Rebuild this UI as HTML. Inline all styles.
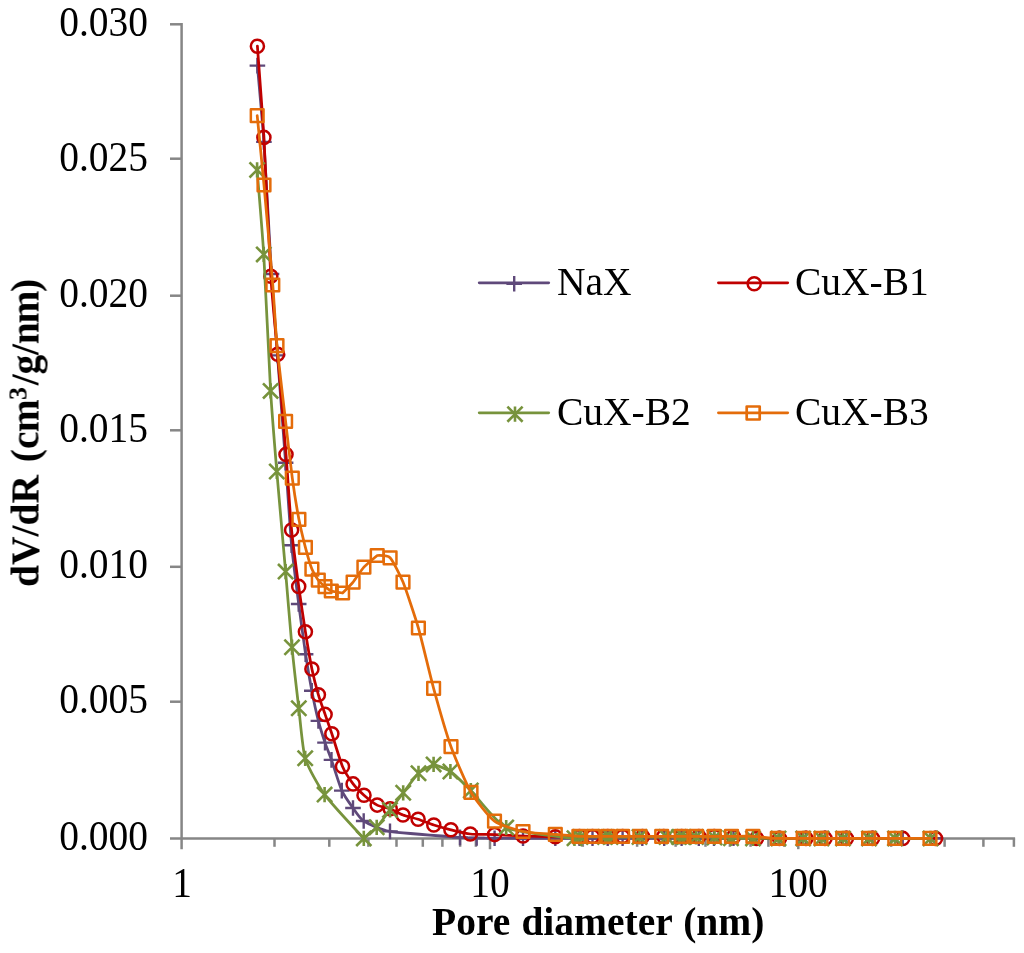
<!DOCTYPE html>
<html><head><meta charset="utf-8"><title>Pore size distribution</title>
<style>
html,body{margin:0;padding:0;background:#fff;}
body{width:1024px;height:953px;position:relative;overflow:hidden;font-family:"Liberation Serif",serif;color:#000;}
.t{position:absolute;white-space:nowrap;font-size:39.5px;line-height:40px;height:40px;will-change:transform;}
.yl{width:120px;text-align:right;left:27.6px;transform-origin:50% 84%;transform:scaleY(1.05);}
.xl{width:120px;text-align:center;transform-origin:50% 84%;transform:scaleY(1.05);}
.b{font-weight:bold;}
</style></head><body>
<svg width="1024" height="953" viewBox="0 0 1024 953" style="position:absolute;left:0;top:0">
<rect width="1024" height="953" fill="#ffffff"/>
<g stroke="#868686" stroke-width="2.50" fill="none" stroke-linecap="butt">
<path d="M181.60 23.05V849.2"/>
<path d="M170 838.50H1015.1"/>
<path d="M170 24.30H181.60"/>
<path d="M170 158.70H181.60"/>
<path d="M170 295.70H181.60"/>
<path d="M170 430.30H181.60"/>
<path d="M170 566.80H181.60"/>
<path d="M170 701.70H181.60"/>
<path d="M274.50 838.50V846.8"/>
<path d="M329.30 838.50V846.8"/>
<path d="M368.40 838.50V846.8"/>
<path d="M396.50 838.50V846.8"/>
<path d="M422.80 838.50V846.8"/>
<path d="M442.40 838.50V846.8"/>
<path d="M460.12 838.50V846.8"/>
<path d="M475.89 838.50V846.8"/>
<path d="M490.00 838.50V849.2"/>
<path d="M582.81 838.50V846.8"/>
<path d="M637.10 838.50V846.8"/>
<path d="M675.62 838.50V846.8"/>
<path d="M705.49 838.50V846.8"/>
<path d="M729.90 838.50V846.8"/>
<path d="M750.54 838.50V846.8"/>
<path d="M768.42 838.50V846.8"/>
<path d="M784.19 838.50V846.8"/>
<path d="M798.30 838.50V849.2"/>
<path d="M891.11 838.50V846.8"/>
<path d="M944.60 838.50V846.8"/>
<path d="M983.40 838.50V846.8"/>
<path d="M1013.90 838.50V846.8"/>
</g>
<path d="M257.40 65.60 C258.05 73.23 262.49 121.06 263.90 141.90 C265.31 162.74 270.14 252.65 271.50 274.00 C272.86 295.35 276.09 336.53 277.50 355.40 C278.91 374.27 284.19 443.72 285.60 462.70 C287.01 481.68 290.29 531.07 291.60 545.20 C292.91 559.33 297.30 593.10 298.70 604.00 C300.10 614.90 304.29 645.53 305.60 654.20 C306.91 662.87 310.52 684.03 311.80 690.70 C313.08 697.37 317.08 715.71 318.40 720.90 C319.72 726.09 323.69 738.70 325.00 742.60 C326.31 746.50 329.82 755.10 331.50 759.90 C333.18 764.70 339.65 785.79 341.80 790.60 C343.95 795.41 350.81 804.96 353.00 808.00 C355.19 811.04 360.00 818.66 363.70 821.00 C367.40 823.34 380.37 829.76 390.00 831.40 C399.63 833.04 451.33 836.74 460.00 837.40 C468.33 838.03 473.24 837.92 476.70 838.00 C480.16 838.08 489.97 838.17 494.60 838.20 C499.23 838.23 516.93 838.29 523.00 838.30 C529.07 838.31 549.65 838.30 555.30 838.30 C560.95 838.30 575.78 838.30 579.50 838.30 C583.22 838.30 589.68 838.30 592.50 838.30 C595.32 838.30 604.69 838.30 607.70 838.30 C610.71 838.30 619.14 838.30 622.60 838.30 C626.06 838.30 638.14 838.30 642.30 838.30 C646.46 838.30 660.27 838.30 664.20 838.30 C668.13 838.30 678.14 838.30 681.60 838.30 C685.06 838.30 695.56 838.30 698.80 838.30 C702.04 838.30 710.53 838.30 714.00 838.30 C717.47 838.30 729.25 838.30 733.50 838.30 C737.75 838.30 751.90 838.30 756.50 838.30 C761.10 838.30 774.55 838.30 779.50 838.30 C784.45 838.30 801.45 838.30 806.00 838.30 C810.55 838.30 820.96 838.30 825.00 838.30 C829.04 838.30 841.65 838.30 846.40 838.30 C851.15 838.30 866.87 838.30 872.50 838.30 C878.13 838.30 896.40 838.30 902.70 838.30 C909.00 838.30 932.22 838.30 935.50 838.30" stroke="#5f497a" stroke-width="2.75" fill="none" stroke-linejoin="round" stroke-linecap="round"/>
<path d="M249.60 65.60H265.20M257.40 57.80V73.40" stroke="#5f497a" stroke-width="2.4" fill="none"/>
<path d="M256.10 141.90H271.70M263.90 134.10V149.70" stroke="#5f497a" stroke-width="2.4" fill="none"/>
<path d="M263.70 274.00H279.30M271.50 266.20V281.80" stroke="#5f497a" stroke-width="2.4" fill="none"/>
<path d="M269.70 355.40H285.30M277.50 347.60V363.20" stroke="#5f497a" stroke-width="2.4" fill="none"/>
<path d="M277.80 462.70H293.40M285.60 454.90V470.50" stroke="#5f497a" stroke-width="2.4" fill="none"/>
<path d="M283.80 545.20H299.40M291.60 537.40V553.00" stroke="#5f497a" stroke-width="2.4" fill="none"/>
<path d="M290.90 604.00H306.50M298.70 596.20V611.80" stroke="#5f497a" stroke-width="2.4" fill="none"/>
<path d="M297.80 654.20H313.40M305.60 646.40V662.00" stroke="#5f497a" stroke-width="2.4" fill="none"/>
<path d="M304.00 690.70H319.60M311.80 682.90V698.50" stroke="#5f497a" stroke-width="2.4" fill="none"/>
<path d="M310.60 720.90H326.20M318.40 713.10V728.70" stroke="#5f497a" stroke-width="2.4" fill="none"/>
<path d="M317.20 742.60H332.80M325.00 734.80V750.40" stroke="#5f497a" stroke-width="2.4" fill="none"/>
<path d="M323.70 759.90H339.30M331.50 752.10V767.70" stroke="#5f497a" stroke-width="2.4" fill="none"/>
<path d="M334.00 790.60H349.60M341.80 782.80V798.40" stroke="#5f497a" stroke-width="2.4" fill="none"/>
<path d="M345.20 808.00H360.80M353.00 800.20V815.80" stroke="#5f497a" stroke-width="2.4" fill="none"/>
<path d="M355.90 821.00H371.50M363.70 813.20V828.80" stroke="#5f497a" stroke-width="2.4" fill="none"/>
<path d="M382.20 831.40H397.80M390.00 823.60V839.20" stroke="#5f497a" stroke-width="2.4" fill="none"/>
<path d="M452.20 837.40H467.80M460.00 829.60V845.20" stroke="#5f497a" stroke-width="2.4" fill="none"/>
<path d="M468.90 838.00H484.50M476.70 830.20V845.80" stroke="#5f497a" stroke-width="2.4" fill="none"/>
<path d="M486.80 838.20H502.40M494.60 830.40V846.00" stroke="#5f497a" stroke-width="2.4" fill="none"/>
<path d="M515.20 838.30H530.80M523.00 830.50V846.10" stroke="#5f497a" stroke-width="2.4" fill="none"/>
<path d="M547.50 838.30H563.10M555.30 830.50V846.10" stroke="#5f497a" stroke-width="2.4" fill="none"/>
<path d="M571.70 838.30H587.30M579.50 830.50V846.10" stroke="#5f497a" stroke-width="2.4" fill="none"/>
<path d="M584.70 838.30H600.30M592.50 830.50V846.10" stroke="#5f497a" stroke-width="2.4" fill="none"/>
<path d="M599.90 838.30H615.50M607.70 830.50V846.10" stroke="#5f497a" stroke-width="2.4" fill="none"/>
<path d="M614.80 838.30H630.40M622.60 830.50V846.10" stroke="#5f497a" stroke-width="2.4" fill="none"/>
<path d="M634.50 838.30H650.10M642.30 830.50V846.10" stroke="#5f497a" stroke-width="2.4" fill="none"/>
<path d="M656.40 838.30H672.00M664.20 830.50V846.10" stroke="#5f497a" stroke-width="2.4" fill="none"/>
<path d="M673.80 838.30H689.40M681.60 830.50V846.10" stroke="#5f497a" stroke-width="2.4" fill="none"/>
<path d="M691.00 838.30H706.60M698.80 830.50V846.10" stroke="#5f497a" stroke-width="2.4" fill="none"/>
<path d="M706.20 838.30H721.80M714.00 830.50V846.10" stroke="#5f497a" stroke-width="2.4" fill="none"/>
<path d="M725.70 838.30H741.30M733.50 830.50V846.10" stroke="#5f497a" stroke-width="2.4" fill="none"/>
<path d="M748.70 838.30H764.30M756.50 830.50V846.10" stroke="#5f497a" stroke-width="2.4" fill="none"/>
<path d="M771.70 838.30H787.30M779.50 830.50V846.10" stroke="#5f497a" stroke-width="2.4" fill="none"/>
<path d="M798.20 838.30H813.80M806.00 830.50V846.10" stroke="#5f497a" stroke-width="2.4" fill="none"/>
<path d="M817.20 838.30H832.80M825.00 830.50V846.10" stroke="#5f497a" stroke-width="2.4" fill="none"/>
<path d="M838.60 838.30H854.20M846.40 830.50V846.10" stroke="#5f497a" stroke-width="2.4" fill="none"/>
<path d="M864.70 838.30H880.30M872.50 830.50V846.10" stroke="#5f497a" stroke-width="2.4" fill="none"/>
<path d="M894.90 838.30H910.50M902.70 830.50V846.10" stroke="#5f497a" stroke-width="2.4" fill="none"/>
<path d="M927.70 838.30H943.30M935.50 830.50V846.10" stroke="#5f497a" stroke-width="2.4" fill="none"/>
<path d="M257.40 46.20 C258.05 55.32 262.56 114.40 263.90 137.40 C265.24 160.40 269.43 254.52 270.80 276.20 C272.17 297.88 276.08 336.38 277.60 354.20 C279.12 372.02 284.60 436.81 286.00 454.40 C287.40 471.99 290.33 516.90 291.60 530.10 C292.87 543.30 297.32 576.23 298.70 586.40 C300.08 596.57 304.08 623.54 305.40 631.80 C306.72 640.06 310.60 662.70 311.90 669.00 C313.20 675.30 317.08 690.26 318.40 694.80 C319.72 699.34 323.75 710.50 325.10 714.40 C326.45 718.30 330.11 728.59 331.85 733.80 C333.59 739.01 340.38 761.49 342.50 766.50 C344.62 771.51 350.95 781.03 353.10 783.90 C355.25 786.77 361.59 793.08 364.00 795.20 C366.41 797.32 374.58 803.74 377.20 805.10 C379.82 806.46 387.62 807.81 390.20 808.80 C392.78 809.79 400.21 813.95 403.00 815.00 C405.79 816.05 415.02 818.30 418.10 819.30 C421.18 820.30 430.52 823.95 433.80 825.00 C437.08 826.05 447.25 828.90 450.90 829.80 C454.55 830.70 465.93 833.52 470.30 834.00 C474.67 834.48 489.33 834.40 494.60 834.60 C499.87 834.80 516.93 835.78 523.00 836.00 C529.07 836.22 549.65 836.74 555.30 836.80 C560.95 836.86 575.78 836.63 579.50 836.60 C583.22 836.57 589.68 836.51 592.50 836.50 C595.32 836.49 604.69 836.50 607.70 836.50 C610.71 836.50 619.12 836.50 622.60 836.50 C626.08 836.50 638.39 836.50 642.50 836.50 C646.61 836.50 659.79 836.50 663.70 836.50 C667.61 836.50 678.09 836.50 681.60 836.50 C685.11 836.50 695.54 836.49 698.80 836.50 C702.06 836.51 710.73 836.57 714.20 836.60 C717.67 836.63 729.27 836.62 733.50 836.80 C737.73 836.98 751.90 838.24 756.50 838.40 C761.10 838.56 774.55 838.40 779.50 838.40 C784.45 838.40 801.45 838.40 806.00 838.40 C810.55 838.40 820.96 838.40 825.00 838.40 C829.04 838.40 841.65 838.40 846.40 838.40 C851.15 838.40 866.87 838.40 872.50 838.40 C878.13 838.40 896.40 838.40 902.70 838.40 C909.00 838.40 932.22 838.40 935.50 838.40" stroke="#c00000" stroke-width="2.75" fill="none" stroke-linejoin="round" stroke-linecap="round"/>
<circle cx="257.40" cy="46.20" r="6.55" stroke="#c00000" stroke-width="2.5" fill="none"/>
<circle cx="263.90" cy="137.40" r="6.55" stroke="#c00000" stroke-width="2.5" fill="none"/>
<circle cx="270.80" cy="276.20" r="6.55" stroke="#c00000" stroke-width="2.5" fill="none"/>
<circle cx="277.60" cy="354.20" r="6.55" stroke="#c00000" stroke-width="2.5" fill="none"/>
<circle cx="286.00" cy="454.40" r="6.55" stroke="#c00000" stroke-width="2.5" fill="none"/>
<circle cx="291.60" cy="530.10" r="6.55" stroke="#c00000" stroke-width="2.5" fill="none"/>
<circle cx="298.70" cy="586.40" r="6.55" stroke="#c00000" stroke-width="2.5" fill="none"/>
<circle cx="305.40" cy="631.80" r="6.55" stroke="#c00000" stroke-width="2.5" fill="none"/>
<circle cx="311.90" cy="669.00" r="6.55" stroke="#c00000" stroke-width="2.5" fill="none"/>
<circle cx="318.40" cy="694.80" r="6.55" stroke="#c00000" stroke-width="2.5" fill="none"/>
<circle cx="325.10" cy="714.40" r="6.55" stroke="#c00000" stroke-width="2.5" fill="none"/>
<circle cx="331.85" cy="733.80" r="6.55" stroke="#c00000" stroke-width="2.5" fill="none"/>
<circle cx="342.50" cy="766.50" r="6.55" stroke="#c00000" stroke-width="2.5" fill="none"/>
<circle cx="353.10" cy="783.90" r="6.55" stroke="#c00000" stroke-width="2.5" fill="none"/>
<circle cx="364.00" cy="795.20" r="6.55" stroke="#c00000" stroke-width="2.5" fill="none"/>
<circle cx="377.20" cy="805.10" r="6.55" stroke="#c00000" stroke-width="2.5" fill="none"/>
<circle cx="390.20" cy="808.80" r="6.55" stroke="#c00000" stroke-width="2.5" fill="none"/>
<circle cx="403.00" cy="815.00" r="6.55" stroke="#c00000" stroke-width="2.5" fill="none"/>
<circle cx="418.10" cy="819.30" r="6.55" stroke="#c00000" stroke-width="2.5" fill="none"/>
<circle cx="433.80" cy="825.00" r="6.55" stroke="#c00000" stroke-width="2.5" fill="none"/>
<circle cx="450.90" cy="829.80" r="6.55" stroke="#c00000" stroke-width="2.5" fill="none"/>
<circle cx="470.30" cy="834.00" r="6.55" stroke="#c00000" stroke-width="2.5" fill="none"/>
<circle cx="494.60" cy="834.60" r="6.55" stroke="#c00000" stroke-width="2.5" fill="none"/>
<circle cx="523.00" cy="836.00" r="6.55" stroke="#c00000" stroke-width="2.5" fill="none"/>
<circle cx="555.30" cy="836.80" r="6.55" stroke="#c00000" stroke-width="2.5" fill="none"/>
<circle cx="579.50" cy="836.60" r="6.55" stroke="#c00000" stroke-width="2.5" fill="none"/>
<circle cx="592.50" cy="836.50" r="6.55" stroke="#c00000" stroke-width="2.5" fill="none"/>
<circle cx="607.70" cy="836.50" r="6.55" stroke="#c00000" stroke-width="2.5" fill="none"/>
<circle cx="622.60" cy="836.50" r="6.55" stroke="#c00000" stroke-width="2.5" fill="none"/>
<circle cx="642.50" cy="836.50" r="6.55" stroke="#c00000" stroke-width="2.5" fill="none"/>
<circle cx="663.70" cy="836.50" r="6.55" stroke="#c00000" stroke-width="2.5" fill="none"/>
<circle cx="681.60" cy="836.50" r="6.55" stroke="#c00000" stroke-width="2.5" fill="none"/>
<circle cx="698.80" cy="836.50" r="6.55" stroke="#c00000" stroke-width="2.5" fill="none"/>
<circle cx="714.20" cy="836.60" r="6.55" stroke="#c00000" stroke-width="2.5" fill="none"/>
<circle cx="733.50" cy="836.80" r="6.55" stroke="#c00000" stroke-width="2.5" fill="none"/>
<circle cx="756.50" cy="838.40" r="6.55" stroke="#c00000" stroke-width="2.5" fill="none"/>
<circle cx="779.50" cy="838.40" r="6.55" stroke="#c00000" stroke-width="2.5" fill="none"/>
<circle cx="806.00" cy="838.40" r="6.55" stroke="#c00000" stroke-width="2.5" fill="none"/>
<circle cx="825.00" cy="838.40" r="6.55" stroke="#c00000" stroke-width="2.5" fill="none"/>
<circle cx="846.40" cy="838.40" r="6.55" stroke="#c00000" stroke-width="2.5" fill="none"/>
<circle cx="872.50" cy="838.40" r="6.55" stroke="#c00000" stroke-width="2.5" fill="none"/>
<circle cx="902.70" cy="838.40" r="6.55" stroke="#c00000" stroke-width="2.5" fill="none"/>
<circle cx="935.50" cy="838.40" r="6.55" stroke="#c00000" stroke-width="2.5" fill="none"/>
<path d="M257.10 169.90 C257.77 178.35 262.40 232.30 263.75 254.40 C265.10 276.50 269.30 369.19 270.60 390.90 C271.91 412.61 275.30 453.43 276.80 471.50 C278.30 489.57 284.08 554.03 285.60 571.60 C287.12 589.17 290.68 633.53 292.00 647.20 C293.32 660.87 297.48 697.19 298.80 708.30 C300.12 719.41 302.62 749.67 305.20 758.30 C307.78 766.93 318.74 786.59 324.60 794.60 C330.46 802.61 363.80 838.40 363.80 838.40 C363.80 838.40 374.08 830.14 376.70 827.30 C379.32 824.46 387.35 813.45 390.00 810.00 C392.65 806.55 400.35 796.47 403.20 792.80 C406.05 789.13 415.46 776.14 418.50 773.30 C421.54 770.46 433.60 764.40 433.60 764.40 C433.60 764.40 446.68 768.89 450.40 771.50 C454.12 774.11 465.22 784.90 470.80 790.50 C476.38 796.10 495.83 822.72 506.20 827.50 C516.57 832.28 574.50 838.30 574.50 838.30 C574.50 838.30 577.45 837.13 580.50 837.00 C583.55 836.87 602.00 837.00 605.00 837.00 C607.75 837.00 607.75 837.00 610.50 837.00 C613.95 837.00 633.90 837.00 639.50 837.00 C645.10 837.00 662.55 837.00 666.50 837.00 C670.45 837.00 677.25 837.00 679.00 837.00 C680.75 837.00 682.30 837.00 684.00 837.00 C685.70 837.00 692.95 836.95 696.00 837.00 C699.05 837.05 711.00 837.37 714.50 837.50 C718.00 837.63 727.15 838.21 731.00 838.30 C734.85 838.39 748.25 838.39 753.00 838.40 C757.75 838.41 773.48 838.40 778.50 838.40 C783.52 838.40 798.90 838.40 803.20 838.40 C807.50 838.40 817.52 838.40 821.50 838.40 C825.48 838.40 838.25 838.40 843.00 838.40 C847.75 838.40 863.80 838.40 869.00 838.40 C874.20 838.40 888.85 838.40 895.00 838.40 C901.15 838.40 926.95 838.40 930.50 838.40" stroke="#77933c" stroke-width="2.75" fill="none" stroke-linejoin="round" stroke-linecap="round"/>
<path d="M249.50 162.30L264.70 177.50M249.50 177.50L264.70 162.30M257.10 162.30V177.50" stroke="#77933c" stroke-width="2.6" fill="none"/>
<path d="M256.15 246.80L271.35 262.00M256.15 262.00L271.35 246.80M263.75 246.80V262.00" stroke="#77933c" stroke-width="2.6" fill="none"/>
<path d="M263.00 383.30L278.20 398.50M263.00 398.50L278.20 383.30M270.60 383.30V398.50" stroke="#77933c" stroke-width="2.6" fill="none"/>
<path d="M269.20 463.90L284.40 479.10M269.20 479.10L284.40 463.90M276.80 463.90V479.10" stroke="#77933c" stroke-width="2.6" fill="none"/>
<path d="M278.00 564.00L293.20 579.20M278.00 579.20L293.20 564.00M285.60 564.00V579.20" stroke="#77933c" stroke-width="2.6" fill="none"/>
<path d="M284.40 639.60L299.60 654.80M284.40 654.80L299.60 639.60M292.00 639.60V654.80" stroke="#77933c" stroke-width="2.6" fill="none"/>
<path d="M291.20 700.70L306.40 715.90M291.20 715.90L306.40 700.70M298.80 700.70V715.90" stroke="#77933c" stroke-width="2.6" fill="none"/>
<path d="M297.60 750.70L312.80 765.90M297.60 765.90L312.80 750.70M305.20 750.70V765.90" stroke="#77933c" stroke-width="2.6" fill="none"/>
<path d="M317.00 787.00L332.20 802.20M317.00 802.20L332.20 787.00M324.60 787.00V802.20" stroke="#77933c" stroke-width="2.6" fill="none"/>
<path d="M356.20 830.80L371.40 846.00M356.20 846.00L371.40 830.80M363.80 830.80V846.00" stroke="#77933c" stroke-width="2.6" fill="none"/>
<path d="M369.10 819.70L384.30 834.90M369.10 834.90L384.30 819.70M376.70 819.70V834.90" stroke="#77933c" stroke-width="2.6" fill="none"/>
<path d="M382.40 802.40L397.60 817.60M382.40 817.60L397.60 802.40M390.00 802.40V817.60" stroke="#77933c" stroke-width="2.6" fill="none"/>
<path d="M395.60 785.20L410.80 800.40M395.60 800.40L410.80 785.20M403.20 785.20V800.40" stroke="#77933c" stroke-width="2.6" fill="none"/>
<path d="M410.90 765.70L426.10 780.90M410.90 780.90L426.10 765.70M418.50 765.70V780.90" stroke="#77933c" stroke-width="2.6" fill="none"/>
<path d="M426.00 756.80L441.20 772.00M426.00 772.00L441.20 756.80M433.60 756.80V772.00" stroke="#77933c" stroke-width="2.6" fill="none"/>
<path d="M442.80 763.90L458.00 779.10M442.80 779.10L458.00 763.90M450.40 763.90V779.10" stroke="#77933c" stroke-width="2.6" fill="none"/>
<path d="M463.20 782.90L478.40 798.10M463.20 798.10L478.40 782.90M470.80 782.90V798.10" stroke="#77933c" stroke-width="2.6" fill="none"/>
<path d="M498.60 819.90L513.80 835.10M498.60 835.10L513.80 819.90M506.20 819.90V835.10" stroke="#77933c" stroke-width="2.6" fill="none"/>
<path d="M566.90 830.70L582.10 845.90M566.90 845.90L582.10 830.70M574.50 830.70V845.90" stroke="#77933c" stroke-width="2.6" fill="none"/>
<path d="M572.90 829.40L588.10 844.60M572.90 844.60L588.10 829.40M580.50 829.40V844.60" stroke="#77933c" stroke-width="2.6" fill="none"/>
<path d="M597.40 829.40L612.60 844.60M597.40 844.60L612.60 829.40M605.00 829.40V844.60" stroke="#77933c" stroke-width="2.6" fill="none"/>
<path d="M602.90 829.40L618.10 844.60M602.90 844.60L618.10 829.40M610.50 829.40V844.60" stroke="#77933c" stroke-width="2.6" fill="none"/>
<path d="M631.90 829.40L647.10 844.60M631.90 844.60L647.10 829.40M639.50 829.40V844.60" stroke="#77933c" stroke-width="2.6" fill="none"/>
<path d="M658.90 829.40L674.10 844.60M658.90 844.60L674.10 829.40M666.50 829.40V844.60" stroke="#77933c" stroke-width="2.6" fill="none"/>
<path d="M671.40 829.40L686.60 844.60M671.40 844.60L686.60 829.40M679.00 829.40V844.60" stroke="#77933c" stroke-width="2.6" fill="none"/>
<path d="M676.40 829.40L691.60 844.60M676.40 844.60L691.60 829.40M684.00 829.40V844.60" stroke="#77933c" stroke-width="2.6" fill="none"/>
<path d="M688.40 829.40L703.60 844.60M688.40 844.60L703.60 829.40M696.00 829.40V844.60" stroke="#77933c" stroke-width="2.6" fill="none"/>
<path d="M706.90 829.90L722.10 845.10M706.90 845.10L722.10 829.90M714.50 829.90V845.10" stroke="#77933c" stroke-width="2.6" fill="none"/>
<path d="M723.40 830.70L738.60 845.90M723.40 845.90L738.60 830.70M731.00 830.70V845.90" stroke="#77933c" stroke-width="2.6" fill="none"/>
<path d="M745.40 830.80L760.60 846.00M745.40 846.00L760.60 830.80M753.00 830.80V846.00" stroke="#77933c" stroke-width="2.6" fill="none"/>
<path d="M770.90 830.80L786.10 846.00M770.90 846.00L786.10 830.80M778.50 830.80V846.00" stroke="#77933c" stroke-width="2.6" fill="none"/>
<path d="M795.60 830.80L810.80 846.00M795.60 846.00L810.80 830.80M803.20 830.80V846.00" stroke="#77933c" stroke-width="2.6" fill="none"/>
<path d="M813.90 830.80L829.10 846.00M813.90 846.00L829.10 830.80M821.50 830.80V846.00" stroke="#77933c" stroke-width="2.6" fill="none"/>
<path d="M835.40 830.80L850.60 846.00M835.40 846.00L850.60 830.80M843.00 830.80V846.00" stroke="#77933c" stroke-width="2.6" fill="none"/>
<path d="M861.40 830.80L876.60 846.00M861.40 846.00L876.60 830.80M869.00 830.80V846.00" stroke="#77933c" stroke-width="2.6" fill="none"/>
<path d="M887.40 830.80L902.60 846.00M887.40 846.00L902.60 830.80M895.00 830.80V846.00" stroke="#77933c" stroke-width="2.6" fill="none"/>
<path d="M922.90 830.80L938.10 846.00M922.90 846.00L938.10 830.80M930.50 830.80V846.00" stroke="#77933c" stroke-width="2.6" fill="none"/>
<path d="M257.20 115.70 C257.88 122.63 262.44 168.07 264.00 185.00 C265.56 201.93 271.50 268.94 272.80 285.00 C274.10 301.06 275.72 331.96 277.00 345.60 C278.28 359.24 284.07 408.15 285.60 421.40 C287.13 434.65 290.97 468.31 292.30 478.10 C293.63 487.89 297.59 512.38 298.90 519.30 C300.21 526.22 304.10 542.32 305.40 547.30 C306.70 552.28 310.61 565.81 311.90 569.10 C313.19 572.39 316.99 578.45 318.30 580.20 C319.61 581.95 323.70 585.52 325.00 586.60 C326.30 587.68 329.54 590.36 331.30 591.00 C333.06 591.64 342.60 593.00 342.60 593.00 C342.60 593.00 350.97 584.68 353.10 582.10 C355.23 579.52 361.49 569.86 363.90 567.20 C366.31 564.54 377.20 555.50 377.20 555.50 C377.20 555.50 387.52 555.14 390.10 557.80 C392.68 560.46 400.17 575.08 403.00 582.10 C405.83 589.12 415.34 617.38 418.40 628.00 C421.46 638.62 430.34 676.43 433.60 688.30 C436.86 700.17 447.26 736.30 451.00 746.70 C454.74 757.10 466.65 784.86 471.00 792.30 C475.35 799.74 489.30 817.18 494.50 821.10 C499.70 825.02 516.92 830.17 523.00 831.50 C529.08 832.83 549.71 833.92 555.30 834.40 C560.89 834.88 575.10 836.11 578.90 836.30 C582.70 836.49 590.42 836.30 593.30 836.30 C596.18 836.30 604.77 836.30 607.70 836.30 C610.63 836.30 619.38 836.30 622.60 836.30 C625.82 836.30 635.99 836.30 639.90 836.30 C643.81 836.30 657.56 836.30 661.70 836.30 C665.84 836.30 677.81 836.30 681.30 836.30 C684.79 836.30 693.31 836.30 696.60 836.30 C699.89 836.30 710.71 836.30 714.20 836.30 C717.69 836.30 727.63 836.30 731.50 836.30 C735.37 836.30 748.32 836.09 752.90 836.30 C757.48 836.51 772.27 838.19 777.30 838.40 C782.33 838.61 798.83 838.40 803.20 838.40 C807.57 838.40 817.05 838.40 821.00 838.40 C824.95 838.40 837.94 838.40 842.70 838.40 C847.46 838.40 863.39 838.40 868.60 838.40 C873.81 838.40 888.66 838.40 894.80 838.40 C900.94 838.40 926.48 838.40 930.00 838.40" stroke="#e46c0a" stroke-width="2.75" fill="none" stroke-linejoin="round" stroke-linecap="round"/>
<rect x="250.85" y="109.35" width="12.70" height="12.70" stroke="#e46c0a" stroke-width="2.50" stroke-linejoin="round" fill="none"/>
<rect x="257.65" y="178.65" width="12.70" height="12.70" stroke="#e46c0a" stroke-width="2.50" stroke-linejoin="round" fill="none"/>
<rect x="266.45" y="278.65" width="12.70" height="12.70" stroke="#e46c0a" stroke-width="2.50" stroke-linejoin="round" fill="none"/>
<rect x="270.65" y="339.25" width="12.70" height="12.70" stroke="#e46c0a" stroke-width="2.50" stroke-linejoin="round" fill="none"/>
<rect x="279.25" y="415.05" width="12.70" height="12.70" stroke="#e46c0a" stroke-width="2.50" stroke-linejoin="round" fill="none"/>
<rect x="285.95" y="471.75" width="12.70" height="12.70" stroke="#e46c0a" stroke-width="2.50" stroke-linejoin="round" fill="none"/>
<rect x="292.55" y="512.95" width="12.70" height="12.70" stroke="#e46c0a" stroke-width="2.50" stroke-linejoin="round" fill="none"/>
<rect x="299.05" y="540.95" width="12.70" height="12.70" stroke="#e46c0a" stroke-width="2.50" stroke-linejoin="round" fill="none"/>
<rect x="305.55" y="562.75" width="12.70" height="12.70" stroke="#e46c0a" stroke-width="2.50" stroke-linejoin="round" fill="none"/>
<rect x="311.95" y="573.85" width="12.70" height="12.70" stroke="#e46c0a" stroke-width="2.50" stroke-linejoin="round" fill="none"/>
<rect x="318.65" y="580.25" width="12.70" height="12.70" stroke="#e46c0a" stroke-width="2.50" stroke-linejoin="round" fill="none"/>
<rect x="324.95" y="584.65" width="12.70" height="12.70" stroke="#e46c0a" stroke-width="2.50" stroke-linejoin="round" fill="none"/>
<rect x="336.25" y="586.65" width="12.70" height="12.70" stroke="#e46c0a" stroke-width="2.50" stroke-linejoin="round" fill="none"/>
<rect x="346.75" y="575.75" width="12.70" height="12.70" stroke="#e46c0a" stroke-width="2.50" stroke-linejoin="round" fill="none"/>
<rect x="357.55" y="560.85" width="12.70" height="12.70" stroke="#e46c0a" stroke-width="2.50" stroke-linejoin="round" fill="none"/>
<rect x="370.85" y="549.15" width="12.70" height="12.70" stroke="#e46c0a" stroke-width="2.50" stroke-linejoin="round" fill="none"/>
<rect x="383.75" y="551.45" width="12.70" height="12.70" stroke="#e46c0a" stroke-width="2.50" stroke-linejoin="round" fill="none"/>
<rect x="396.65" y="575.75" width="12.70" height="12.70" stroke="#e46c0a" stroke-width="2.50" stroke-linejoin="round" fill="none"/>
<rect x="412.05" y="621.65" width="12.70" height="12.70" stroke="#e46c0a" stroke-width="2.50" stroke-linejoin="round" fill="none"/>
<rect x="427.25" y="681.95" width="12.70" height="12.70" stroke="#e46c0a" stroke-width="2.50" stroke-linejoin="round" fill="none"/>
<rect x="444.65" y="740.35" width="12.70" height="12.70" stroke="#e46c0a" stroke-width="2.50" stroke-linejoin="round" fill="none"/>
<rect x="464.65" y="785.95" width="12.70" height="12.70" stroke="#e46c0a" stroke-width="2.50" stroke-linejoin="round" fill="none"/>
<rect x="488.15" y="814.75" width="12.70" height="12.70" stroke="#e46c0a" stroke-width="2.50" stroke-linejoin="round" fill="none"/>
<rect x="516.65" y="825.15" width="12.70" height="12.70" stroke="#e46c0a" stroke-width="2.50" stroke-linejoin="round" fill="none"/>
<rect x="548.95" y="828.05" width="12.70" height="12.70" stroke="#e46c0a" stroke-width="2.50" stroke-linejoin="round" fill="none"/>
<rect x="572.55" y="829.95" width="12.70" height="12.70" stroke="#e46c0a" stroke-width="2.50" stroke-linejoin="round" fill="none"/>
<rect x="586.95" y="829.95" width="12.70" height="12.70" stroke="#e46c0a" stroke-width="2.50" stroke-linejoin="round" fill="none"/>
<rect x="601.35" y="829.95" width="12.70" height="12.70" stroke="#e46c0a" stroke-width="2.50" stroke-linejoin="round" fill="none"/>
<rect x="616.25" y="829.95" width="12.70" height="12.70" stroke="#e46c0a" stroke-width="2.50" stroke-linejoin="round" fill="none"/>
<rect x="633.55" y="829.95" width="12.70" height="12.70" stroke="#e46c0a" stroke-width="2.50" stroke-linejoin="round" fill="none"/>
<rect x="655.35" y="829.95" width="12.70" height="12.70" stroke="#e46c0a" stroke-width="2.50" stroke-linejoin="round" fill="none"/>
<rect x="674.95" y="829.95" width="12.70" height="12.70" stroke="#e46c0a" stroke-width="2.50" stroke-linejoin="round" fill="none"/>
<rect x="690.25" y="829.95" width="12.70" height="12.70" stroke="#e46c0a" stroke-width="2.50" stroke-linejoin="round" fill="none"/>
<rect x="707.85" y="829.95" width="12.70" height="12.70" stroke="#e46c0a" stroke-width="2.50" stroke-linejoin="round" fill="none"/>
<rect x="725.15" y="829.95" width="12.70" height="12.70" stroke="#e46c0a" stroke-width="2.50" stroke-linejoin="round" fill="none"/>
<rect x="746.55" y="829.95" width="12.70" height="12.70" stroke="#e46c0a" stroke-width="2.50" stroke-linejoin="round" fill="none"/>
<rect x="770.95" y="832.05" width="12.70" height="12.70" stroke="#e46c0a" stroke-width="2.50" stroke-linejoin="round" fill="none"/>
<rect x="796.85" y="832.05" width="12.70" height="12.70" stroke="#e46c0a" stroke-width="2.50" stroke-linejoin="round" fill="none"/>
<rect x="814.65" y="832.05" width="12.70" height="12.70" stroke="#e46c0a" stroke-width="2.50" stroke-linejoin="round" fill="none"/>
<rect x="836.35" y="832.05" width="12.70" height="12.70" stroke="#e46c0a" stroke-width="2.50" stroke-linejoin="round" fill="none"/>
<rect x="862.25" y="832.05" width="12.70" height="12.70" stroke="#e46c0a" stroke-width="2.50" stroke-linejoin="round" fill="none"/>
<rect x="888.45" y="832.05" width="12.70" height="12.70" stroke="#e46c0a" stroke-width="2.50" stroke-linejoin="round" fill="none"/>
<rect x="923.65" y="832.05" width="12.70" height="12.70" stroke="#e46c0a" stroke-width="2.50" stroke-linejoin="round" fill="none"/>
<path d="M479.20 282.75H548.70" stroke="#5f497a" stroke-width="2.75" fill="none" stroke-linecap="round"/>
<path d="M506.40 283.75H522.00M514.20 275.95V291.55" stroke="#5f497a" stroke-width="2.4" fill="none"/>
<path d="M718.40 282.75H787.70" stroke="#c00000" stroke-width="2.75" fill="none" stroke-linecap="round"/>
<circle cx="754.20" cy="283.75" r="6.55" stroke="#c00000" stroke-width="2.5" fill="none"/>
<path d="M479.20 412.75H548.70" stroke="#77933c" stroke-width="2.75" fill="none" stroke-linecap="round"/>
<path d="M507.40 406.55L522.60 421.75M507.40 421.75L522.60 406.55M515.00 406.55V421.75" stroke="#77933c" stroke-width="2.6" fill="none"/>
<path d="M718.40 412.75H787.70" stroke="#e46c0a" stroke-width="2.75" fill="none" stroke-linecap="round"/>
<rect x="746.70" y="406.50" width="13.00" height="13.00" stroke="#e46c0a" stroke-width="2.70" stroke-linejoin="round" fill="none"/>
</svg>
<div class="t yl" style="top:2.5px">0.030</div>
<div class="t yl" style="top:137.5px">0.025</div>
<div class="t yl" style="top:273.7px">0.020</div>
<div class="t yl" style="top:408.5px">0.015</div>
<div class="t yl" style="top:544.7px">0.010</div>
<div class="t yl" style="top:679.6px">0.005</div>
<div class="t yl" style="top:816.5px">0.000</div>
<div class="t xl" style="left:121.9px;top:864.4px">1</div>
<div class="t xl" style="left:430.4px;top:864.4px">10</div>
<div class="t xl" style="left:738.2px;top:864.4px">100</div>
<div class="t b" style="left:432.4px;top:902.2px;word-spacing:1.3px">Pore diameter (nm)</div>
<div class="t b" id="ytitle" style="left:41.0px;top:586.9px;transform-origin:0 0;transform:rotate(-90deg) translate(0,-35.5px);word-spacing:3px;">dV/dR (<span style="letter-spacing:-0.7px">cm</span><span style="font-size:26px;position:relative;top:-12.5px;line-height:0;margin-right:1.8px">3</span><span style="letter-spacing:-0.27px">/g/</span><span style="letter-spacing:-1.25px">nm</span>)</div>
<div class="t" style="left:556.7px;top:262px">NaX</div>
<div class="t" style="left:794.7px;top:262px">CuX-B1</div>
<div class="t" style="left:556.7px;top:392px">CuX-B2</div>
<div class="t" style="left:794.7px;top:392px">CuX-B3</div>
</body></html>
